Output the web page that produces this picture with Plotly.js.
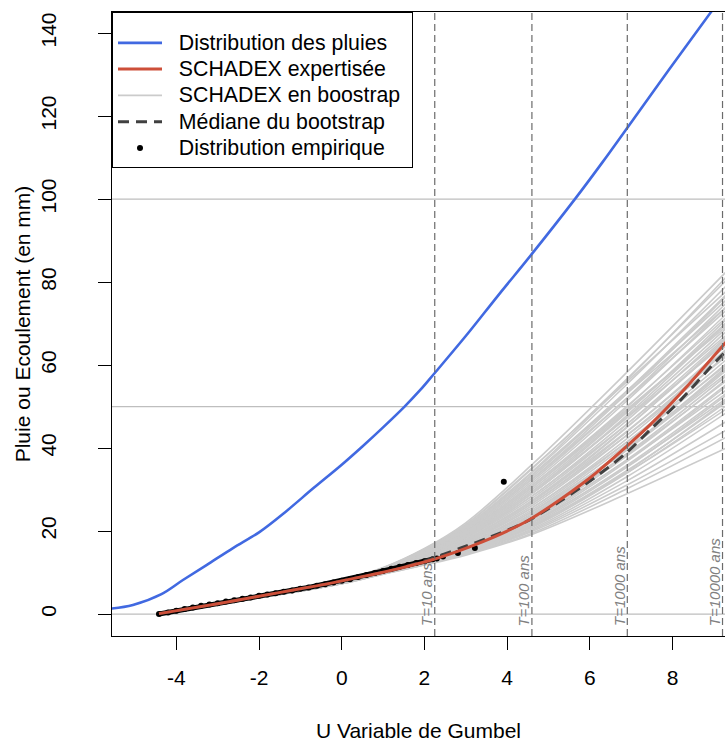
<!DOCTYPE html>
<html>
<head>
<meta charset="utf-8">
<script src="https://cdn.plot.ly/plotly-3.0.1.min.js"></script>
<style>html,body{margin:0;padding:0;background:#fff;overflow:hidden}#chart{width:725px;height:742px}</style>
</head>
<body>
<div id="chart"></div>
<script>
// ---- data ----
const X_TICKS = [-4, -2, 0, 2, 4, 6, 8];
const Y_TICKS = [0, 20, 40, 60, 80, 100, 120, 140];
const GRID_Y = [0, 50, 100];
const RP_U = [2.25, 4.60, 6.907, 9.21];
const RP_LABELS = ["T=10 ans", "T=100 ans", "T=1000 ans", "T=10000 ans"];

const BLUE_U = [-5.6, -5.05, -4.36, -3.84, -3.27, -2.63, -2.0, -1.34, -0.69, 0.0, 0.5, 1.0, 1.52, 1.9, 2.25, 3.0, 3.8, 4.6, 5.64, 6.3, 6.9, 7.9, 8.94, 9.3];
const BLUE_V = [1.3, 2.2, 4.8, 8.2, 11.8, 15.9, 19.7, 24.8, 30.3, 36.0, 40.4, 45.0, 50.0, 54.0, 58.1, 67.0, 77.0, 86.8, 100.0, 108.8, 117.1, 131.0, 145.2, 150.2];

const RED_U = [-4.42, -3, -2, -1, -0.29, 0.44, 0.92, 1.4, 2.13, 2.85, 3.4, 4.0, 4.55, 5.27, 5.84, 6.16, 6.89, 7.5, 8.2, 9.3];
const RED_V = [0.1, 2.5, 4.3, 6.1, 7.4, 8.9, 9.9, 11.0, 12.9, 15.3, 17.4, 20.0, 22.8, 27.5, 31.6, 34.1, 40.4, 46.0, 53.2, 65.6];

const MED_U = [-4.42, -3, -2, -1, -0.29, 0.44, 0.92, 1.4, 2.13, 2.85, 3.58, 4.47, 5.27, 6.08, 6.88, 7.5, 8.2, 9.02, 9.3];
const MED_V = [0.1, 2.5, 4.3, 6.1, 7.4, 8.9, 9.9, 11.0, 13.2, 15.8, 18.5, 22.3, 27.1, 32.6, 38.8, 44.8, 51.6, 60.6, 63.4];

const EMP_DENSE_U = [-4.42, -4.2, -4.0, -3.8, -3.6, -3.4, -3.2, -3.0, -2.8, -2.6, -2.4, -2.2, -2.0, -1.8, -1.6, -1.4, -1.2, -1.0, -0.8, -0.6, -0.4, -0.2, 0.0, 0.2, 0.4, 0.6, 0.8, 1.0, 1.2, 1.4, 1.6, 1.8, 2.0, 2.2];
const EMP_DENSE_V = [0.0, 0.4, 0.8, 1.2, 1.6, 2.0, 2.3, 2.6, 3.0, 3.3, 3.7, 4.0, 4.4, 4.7, 5.0, 5.4, 5.7, 6.1, 6.4, 6.8, 7.2, 7.6, 8.0, 8.4, 8.9, 9.4, 9.9, 10.4, 10.9, 11.4, 11.8, 12.3, 12.7, 13.2];
const EMP_TAIL_U = [2.3, 2.45, 2.81, 3.22, 3.92];
const EMP_TAIL_V = [13.4, 13.9, 14.7, 15.9, 31.9];

const BOOT_U = [-4.42, 0, 1, 2, 3, 4.6, 6.9, 9.3];
const BOOT_V = [
  [0.1, 8.2, 11.2, 15.8, 22.0, 36.0, 58.3, 82.5],
  [0.1, 8.1, 11.1, 15.6, 21.5, 35.0, 56.7, 80.4],
  [0.1, 8.1, 11.0, 15.3, 21.1, 34.0, 55.4, 79.1],
  [0.1, 8.2, 11.1, 15.6, 21.6, 35.2, 56.0, 77.8],
  [0.1, 8.0, 10.9, 15.1, 20.6, 33.0, 53.8, 77.0],
  [0.1, 8.0, 10.9, 15.0, 20.4, 32.5, 53.2, 76.6],
  [0.1, 8.1, 11.0, 15.2, 20.8, 33.5, 53.8, 75.7],
  [0.1, 8.0, 10.8, 14.8, 20.1, 32.0, 52.1, 74.9],
  [0.1, 8.0, 10.8, 14.7, 19.9, 31.5, 51.4, 74.0],
  [0.1, 8.0, 10.9, 15.0, 20.4, 32.5, 52.0, 73.2],
  [0.1, 7.9, 10.7, 14.5, 19.4, 30.5, 49.9, 72.3],
  [0.1, 7.9, 10.7, 14.6, 19.7, 31.0, 50.1, 71.5],
  [0.1, 7.8, 10.6, 14.2, 19.0, 29.5, 48.6, 71.0],
  [0.1, 7.9, 10.6, 14.4, 19.2, 30.0, 48.8, 70.2],
  [0.1, 7.9, 10.7, 14.6, 19.7, 31.0, 49.4, 69.3],
  [0.1, 7.8, 10.5, 14.1, 18.7, 29.0, 47.5, 68.9],
  [0.1, 7.8, 10.5, 14.0, 18.5, 28.4, 46.7, 68.1],
  [0.1, 7.8, 10.6, 14.2, 19.0, 29.5, 47.3, 67.2],
  [0.1, 7.8, 10.4, 13.9, 18.3, 27.9, 45.8, 66.8],
  [0.1, 7.7, 10.4, 13.8, 18.0, 27.4, 45.1, 65.9],
  [0.1, 7.8, 10.5, 14.0, 18.5, 28.4, 45.8, 65.5],
  [0.1, 7.7, 10.3, 13.6, 17.6, 26.6, 43.9, 64.7],
  [0.1, 7.7, 10.4, 13.7, 17.9, 27.1, 44.1, 63.8],
  [0.1, 7.7, 10.3, 13.4, 17.4, 26.1, 43.1, 63.4],
  [0.1, 7.6, 10.2, 13.3, 17.2, 25.6, 42.3, 62.5],
  [0.1, 7.7, 10.3, 13.6, 17.6, 26.6, 43.1, 62.1],
  [0.1, 7.6, 10.2, 13.2, 16.9, 25.1, 41.5, 61.3],
  [0.1, 7.6, 10.1, 13.1, 16.8, 24.7, 40.9, 60.4],
  [0.1, 7.6, 10.2, 13.3, 17.2, 25.6, 41.5, 60.0],
  [0.1, 7.6, 10.1, 13.0, 16.5, 24.2, 40.0, 59.1],
  [0.1, 7.6, 10.0, 12.9, 16.4, 23.9, 39.5, 58.7],
  [0.1, 7.6, 10.1, 13.1, 16.7, 24.6, 39.8, 57.9],
  [0.1, 7.5, 10.0, 12.8, 16.2, 23.4, 38.7, 57.4],
  [0.1, 7.5, 10.0, 12.7, 16.0, 23.1, 38.1, 56.6],
  [0.1, 7.5, 10.0, 12.9, 16.3, 23.7, 38.5, 56.2],
  [0.1, 7.5, 9.9, 12.6, 15.8, 22.6, 37.2, 55.3],
  [0.1, 7.5, 9.9, 12.5, 15.6, 22.2, 36.8, 54.9],
  [0.1, 7.5, 10.0, 12.7, 15.9, 22.9, 37.1, 54.0],
  [0.1, 7.4, 9.9, 12.4, 15.4, 21.9, 35.9, 53.2],
  [0.1, 7.4, 9.8, 12.4, 15.3, 21.6, 35.4, 52.8],
  [0.1, 7.5, 9.9, 12.5, 15.5, 22.1, 35.6, 51.9],
  [0.1, 7.4, 9.8, 12.3, 15.1, 21.2, 34.6, 51.1],
  [0.1, 7.4, 9.8, 12.2, 15.0, 20.9, 34.0, 50.2],
  [0.1, 7.4, 9.8, 12.3, 15.2, 21.4, 34.1, 49.4],
  [0.1, 7.4, 9.7, 12.1, 14.8, 20.5, 33.1, 48.5],
  [0.1, 7.4, 9.7, 12.0, 14.7, 20.2, 32.1, 46.4],
  [0.1, 7.3, 9.7, 12.0, 14.5, 19.9, 31.1, 44.3],
  [0.1, 7.3, 9.6, 11.9, 14.4, 19.5, 30.2, 42.6],
  [0.1, 7.3, 9.6, 11.8, 14.2, 19.2, 29.0, 40.0],
  [0.1, 7.8, 10.5, 14.1, 18.7, 29.0, 47.9, 70.2],
  [0.1, 7.9, 10.7, 14.5, 19.4, 30.5, 49.1, 69.8],
  [0.1, 8.1, 11.0, 15.4, 21.2, 34.3, 56.4, 81.2],
  [0.1, 7.7, 10.4, 13.7, 17.9, 27.1, 45.0, 66.4],
  [0.1, 7.5, 10.0, 12.9, 16.3, 23.7, 39.7, 59.6],
  [0.1, 8.1, 11.0, 15.2, 20.8, 33.5, 53.2, 74.0],
  [0.1, 7.4, 9.8, 12.2, 15.0, 20.9, 34.4, 51.5]
];

const NAMES = ["Distribution des pluies", "SCHADEX expertisée", "SCHADEX en boostrap", "Médiane du bootstrap", "Distribution empirique"];

// ---- styling ----
const FONT = "Liberation Sans, Arial, sans-serif";
const lg = s => '<span style="font-size:21.3px">&nbsp;&nbsp;' + s + '&nbsp;</span>';

const traces = [];
BOOT_V.forEach((v, i) => {
  traces.push({
    x: BOOT_U, y: v, type: "scatter", mode: "lines",
    line: {color: "#cbcbcb", width: 1.6, shape: "spline", smoothing: 1},
    name: lg(NAMES[2]), legendgroup: "boot", showlegend: i === 0, legendrank: 3,
    hoverinfo: "skip"
  });
});
traces.push({
  x: BLUE_U, y: BLUE_V, type: "scatter", mode: "lines",
  line: {color: "#4169E1", width: 2.6, shape: "spline", smoothing: 1},
  name: lg(NAMES[0]), legendrank: 1
});
traces.push({
  x: EMP_DENSE_U, y: EMP_DENSE_V, type: "scatter", mode: "lines",
  line: {color: "#000000", width: 5},
  showlegend: false, hoverinfo: "skip", legendgroup: "emp"
});
traces.push({
  x: EMP_DENSE_U.concat(EMP_TAIL_U), y: EMP_DENSE_V.concat(EMP_TAIL_V),
  type: "scatter", mode: "markers",
  marker: {color: "#000000", size: 6},
  name: lg(NAMES[4]), legendgroup: "emp", legendrank: 5
});
traces.push({
  x: MED_U, y: MED_V, type: "scatter", mode: "lines",
  line: {color: "#404040", width: 3, dash: "11px,7px", shape: "spline", smoothing: 0.8},
  name: lg(NAMES[3]), legendrank: 4
});
traces.push({
  x: RED_U, y: RED_V, type: "scatter", mode: "lines",
  line: {color: "#CD4F39", width: 3, shape: "spline", smoothing: 0.8},
  name: lg(NAMES[1]), legendrank: 2
});

const shapes = [];
GRID_Y.forEach(g => shapes.push({
  type: "line", xref: "paper", x0: 0, x1: 1, yref: "y", y0: g, y1: g,
  line: {color: "#bebebe", width: 1.3}, layer: "below"
}));
RP_U.forEach(u => shapes.push({
  type: "line", xref: "x", x0: u, x1: u, yref: "paper", y0: 0, y1: 1,
  line: {color: "#6b6b6b", width: 1.2, dash: "7px,4px"}, layer: "above"
}));

const annotations = RP_U.map((u, i) => ({
  x: u, y: -3.4, xref: "x", yref: "y", text: RP_LABELS[i],
  showarrow: false, textangle: -90, xanchor: "right", yanchor: "bottom",
  xshift: 2,
  font: {family: FONT, size: 15, color: "#808080", style: "italic"}
}));

const layout = {
  width: 725, height: 742,
  margin: {l: 112, r: 0, t: 12, b: 106, pad: 0},
  paper_bgcolor: "#ffffff", plot_bgcolor: "#ffffff",
  font: {family: FONT, size: 21, color: "#000000"},
  showlegend: true,
  legend: {
    x: 0, y: 1, xanchor: "left", yanchor: "top",
    bgcolor: "#ffffff", bordercolor: "#000000", borderwidth: 1,
    font: {family: FONT, size: 17.9, color: "#000000"},
    itemwidth: 44, tracegroupgap: 0,
    title: {text: " ", font: {family: FONT, size: 9}}
  },
  xaxis: {
    range: [-5.556, 9.27], tickvals: X_TICKS, ticktext: X_TICKS.map(String),
    showgrid: false, zeroline: false,
    showline: true, linecolor: "#000000", linewidth: 1, mirror: true,
    ticks: "outside", ticklen: 13, tickwidth: 1, tickcolor: "#000000",
    ticklabelstandoff: 10,
    tickfont: {family: FONT, size: 21},
    title: {text: "U Variable de Gumbel", font: {family: FONT, size: 21}, standoff: 42}
  },
  yaxis: {
    range: [-5.29, 145.1], tickvals: Y_TICKS, ticktext: Y_TICKS.map(String),
    showgrid: false, zeroline: false,
    showline: true, linecolor: "#000000", linewidth: 1, mirror: false,
    ticks: "outside", ticklen: 13, tickwidth: 1, tickcolor: "#000000",
    ticklabelstandoff: 34,
    tickangle: -90,
    tickfont: {family: FONT, size: 21},
    title: {text: "Pluie ou Ecoulement (en mm)", font: {family: FONT, size: 21}, standoff: 0}
  },
  shapes: shapes,
  annotations: annotations
};

Plotly.newPlot("chart", traces, layout, {displayModeBar: false, staticPlot: true});
</script>
</body>
</html>
